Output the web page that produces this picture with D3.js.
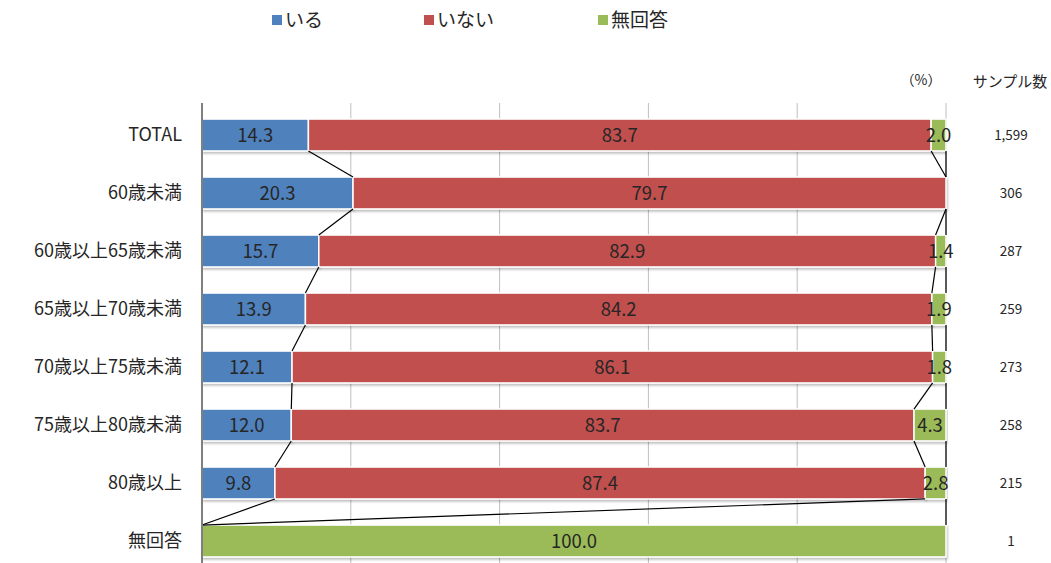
<!DOCTYPE html>
<html>
<head>
<meta charset="utf-8">
<script src="https://cdn.jsdelivr.net/npm/d3@7"></script>
<style>
  body { margin: 0; background: #fff; }
  svg { display: block; font-family: "Noto Sans CJK JP", "Noto Sans", sans-serif; }
</style>
</head>
<body>
<svg></svg>
<script>
const categories = ['TOTAL', '60歳未満', '60歳以上65歳未満', '65歳以上70歳未満', '70歳以上75歳未満', '75歳以上80歳未満', '80歳以上', '無回答'];
const iru = [14.3, 20.3, 15.7, 13.9, 12.1, 12.0, 9.8, 0];
const inai = [83.7, 79.7, 82.9, 84.2, 86.1, 83.7, 87.4, 0];
const mukaito = [2.0, 0.0, 1.4, 1.9, 1.8, 4.3, 2.8, 100.0];
const samples = ['1,599', '306', '287', '259', '273', '258', '215', '1'];
const seriesNames = ['いる', 'いない', '無回答'];
const colors = ['#4f81bd', '#c0504d', '#9bbb59'];
const xTicks = [0, 20, 40, 60, 80, 100];

const width = 1051;
const height = 563;

const svg = d3.select('svg').attr('width', width).attr('height', height);

const x = d3.scaleLinear().domain([0, 100]).range([202, 946]);
const y = d3.scaleBand().domain(categories).range([106, 570]).paddingInner(0.45).paddingOuter(0.225);

// shadow under bars
const defs = svg.append('defs');
const f = defs.append('filter').attr('id', 'sh').attr('x', '-5%').attr('y', '-20%').attr('width', '110%').attr('height', '160%');
f.append('feDropShadow').attr('dx', 1).attr('dy', 2).attr('stdDeviation', 1.2).attr('flood-color', '#000').attr('flood-opacity', 0.25);

// gridlines
svg.append('g')
  .selectAll('line')
  .data(xTicks.slice(1))
  .join('line')
  .attr('x1', d => x(d)).attr('x2', d => x(d))
  .attr('y1', 103).attr('y2', height)
  .attr('stroke', '#bfbfbf').attr('stroke-width', 1);

const rows = categories.map((c, i) => ({ cat: c, vals: [iru[i], inai[i], mukaito[i]] }));
const stack = rows.map(r => {
  let acc = 0;
  return r.vals.map((v, k) => { const s = { k, x0: acc, x1: acc + v, v, cat: r.cat }; acc += v; return s; });
});

// bars
svg.append('g')
  .selectAll('g')
  .data(stack)
  .join('g')
  .selectAll('rect')
  .data(d => d.filter(s => s.v > 0))
  .join('rect')
  .attr('x', d => x(d.x0)).attr('width', d => x(d.x1) - x(d.x0))
  .attr('y', d => y(d.cat)).attr('height', y.bandwidth())
  .attr('fill', d => colors[d.k])
  .attr('stroke', '#fff').attr('stroke-width', 1.5)
  .attr('filter', 'url(#sh)');

// series lines
const links = [];
for (let i = 0; i < stack.length - 1; i++) {
  for (let k = 0; k < 3; k++) {
    links.push({ a: stack[i][k].x1, ya: y(categories[i]) + y.bandwidth(), b: stack[i + 1][k].x1, yb: y(categories[i + 1]) });
  }
}
svg.append('g')
  .selectAll('line')
  .data(links)
  .join('line')
  .attr('x1', d => x(d.a)).attr('y1', d => d.ya)
  .attr('x2', d => x(d.b)).attr('y2', d => d.yb)
  .attr('stroke', '#000').attr('stroke-width', 1.2);

// axis line
svg.append('line')
  .attr('x1', x(0)).attr('x2', x(0)).attr('y1', 103).attr('y2', height)
  .attr('stroke', '#7f7f7f').attr('stroke-width', 2);

// value labels
svg.append('g')
  .selectAll('g')
  .data(stack)
  .join('g')
  .selectAll('text')
  .data(d => d.filter(s => s.v > 0))
  .join('text')
  .attr('x', d => x((d.x0 + d.x1) / 2))
  .attr('y', d => y(d.cat) + y.bandwidth() / 2)
  .attr('dy', '0.36em')
  .attr('text-anchor', 'middle')
  .attr('font-size', 18.5)
  .attr('fill', '#262626')
  .text(d => d.v.toFixed(1));

// category labels
svg.append('g')
  .selectAll('text')
  .data(categories)
  .join('text')
  .attr('x', 182)
  .attr('y', d => y(d) + y.bandwidth() / 2)
  .attr('dy', '0.36em')
  .attr('text-anchor', 'end')
  .attr('font-size', 18)
  .attr('fill', '#262626')
  .text(d => d);

// sample sizes
svg.append('g')
  .selectAll('text')
  .data(samples)
  .join('text')
  .attr('x', 1011)
  .attr('y', (d, i) => y(categories[i]) + y.bandwidth() / 2)
  .attr('dy', '0.36em')
  .attr('text-anchor', 'middle')
  .attr('font-size', 13.5)
  .attr('fill', '#262626')
  .text(d => d);

svg.append('text').attr('x', 1010).attr('y', 82).attr('dy', '0.36em').attr('text-anchor', 'middle')
  .attr('font-size', 15).attr('fill', '#262626').text('サンプル数');
svg.append('text').attr('x', 921).attr('y', 80).attr('dy', '0.36em').attr('text-anchor', 'middle')
  .attr('font-size', 14).attr('fill', '#262626').text('（%）');

// legend
const legendX = [272, 424, 598];
const lg = svg.append('g')
  .selectAll('g')
  .data(seriesNames)
  .join('g')
  .attr('transform', (d, i) => `translate(${legendX[i]},20)`);
lg.append('rect').attr('x', 0).attr('y', -5).attr('width', 10).attr('height', 10)
  .attr('fill', (d, i) => colors[i]);
lg.append('text').attr('x', 13).attr('y', 0).attr('dy', '0.36em')
  .attr('font-size', 19).attr('fill', '#262626').text(d => d);
</script>
</body>
</html>
